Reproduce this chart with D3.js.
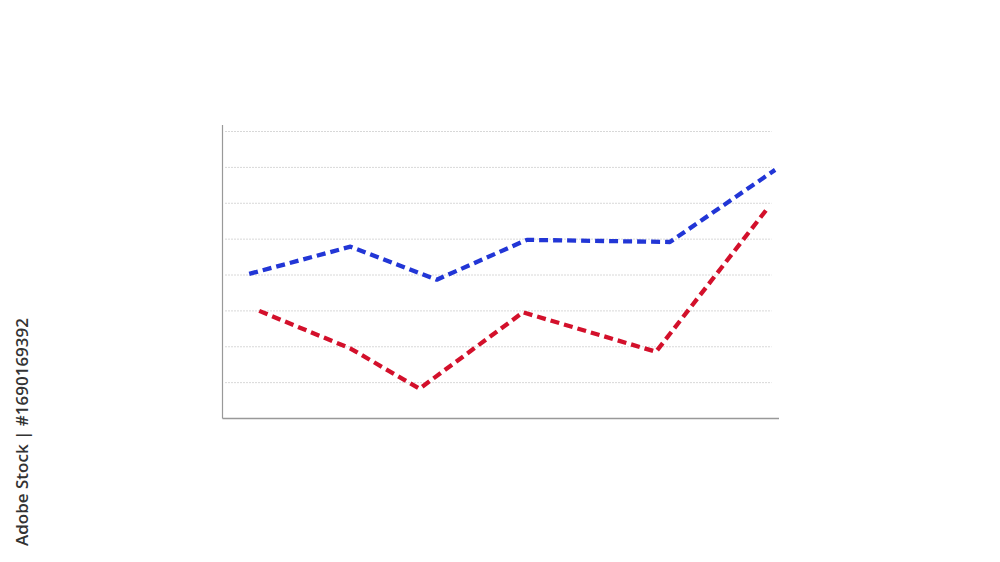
<!DOCTYPE html>
<html><head><meta charset="utf-8">
<script src="https://cdn.jsdelivr.net/npm/d3@7"></script>
<style>html,body{margin:0;padding:0;background:#fff;}svg{display:block;}</style>
</head><body>
<script>
// Data (x positions in arbitrary units 0-10, values on 0-8 scale)
const blueX = [0.48, 2.30, 3.85, 5.47, 8.04, 9.93];
const blueY = [4.03, 4.79, 3.87, 4.98, 4.92, 6.93];
const redX  = [0.66, 2.30, 3.54, 5.40, 7.79, 9.78];
const redY  = [3.00, 1.95, 0.83, 2.96, 1.86, 5.83];
const gridTicks = [1, 2, 3, 4, 5, 6, 7, 8];
const watermark = "Adobe Stock | #1690169392";

const W = 1000, H = 562;
const svg = d3.select("body").append("svg").attr("width", W).attr("height", H);

const x = d3.scaleLinear().domain([0, 10]).range([222.5, 779]);
const y = d3.scaleLinear().domain([0, 8]).range([418.5, 131.5]);

// gridlines
svg.append("g").selectAll("line").data(gridTicks).join("line")
  .attr("x1", x(0) + 3).attr("x2", x(9.87))
  .attr("y1", d => y(d)).attr("y2", d => y(d))
  .attr("stroke", "#b0b0b0").attr("stroke-width", 1)
  .attr("stroke-dasharray", "1,2");

// axes
const axisG = svg.append("g");
axisG.append("line").attr("x1", x(0)).attr("x2", x(0))
  .attr("y1", y(8.18)).attr("y2", y(0))
  .attr("stroke", "#999").attr("stroke-width", 1.2);
axisG.append("line").attr("x1", x(0)).attr("x2", x(10))
  .attr("y1", y(0)).attr("y2", y(0))
  .attr("stroke", "#999").attr("stroke-width", 1.5);

const line = d3.line().x(d => x(d[0])).y(d => y(d[1]));

const series = [
  {xs: blueX, ys: blueY, color: "#2236d6"},
  {xs: redX, ys: redY, color: "#d3102b"}
];
series.forEach(s => {
  svg.append("path")
    .datum(s.xs.map((v, i) => [v, s.ys[i]]))
    .attr("d", line)
    .attr("fill", "none")
    .attr("stroke", s.color)
    .attr("stroke-width", 4.3)
    .attr("stroke-dasharray", "9,5")
    .attr("stroke-linejoin", "round");
});

// vertical watermark text
svg.append("text")
  .attr("transform", "translate(28,432) rotate(-90)")
  .attr("text-anchor", "middle")
  .attr("font-family", "'Open Sans', sans-serif")
  .attr("font-size", 17)
  .attr("font-weight", 600)
  .attr("fill", "#333")
  .text(watermark);
</script>
</body></html>
